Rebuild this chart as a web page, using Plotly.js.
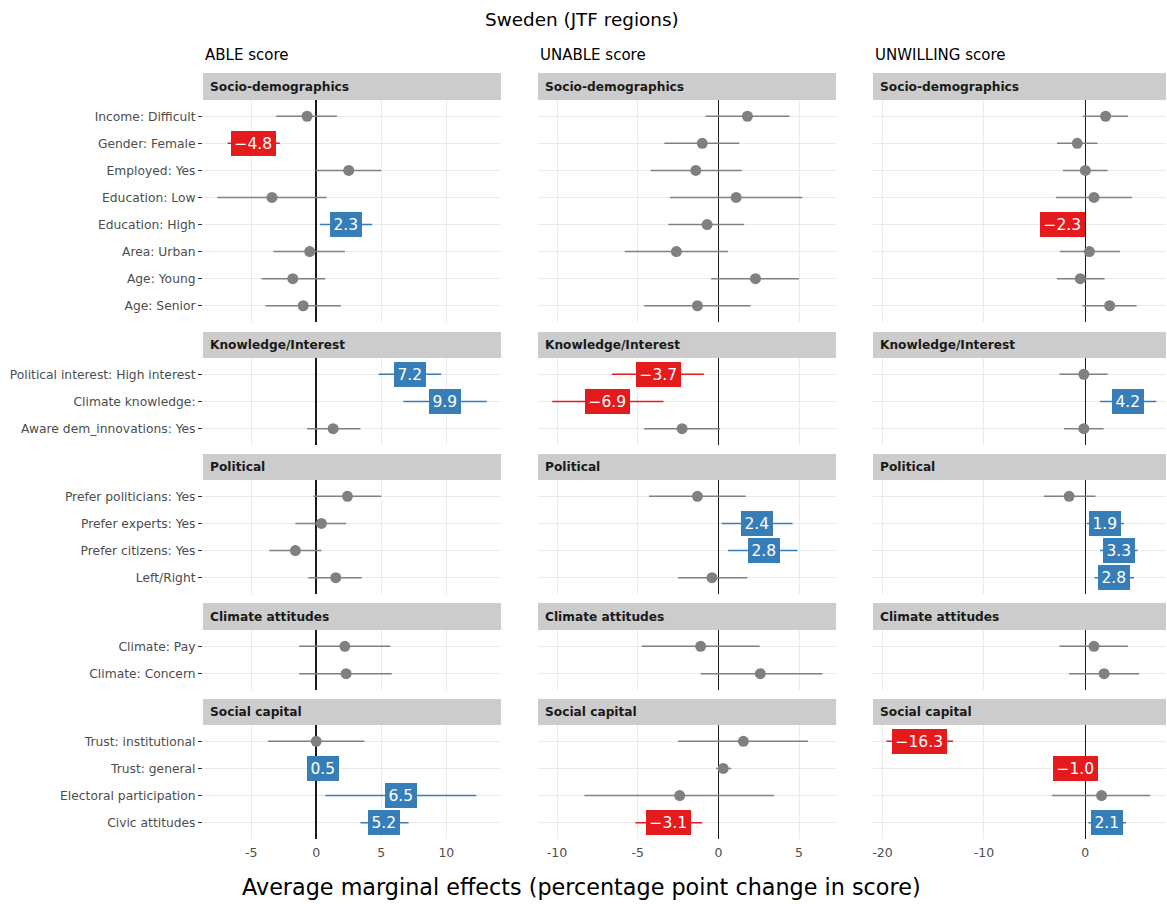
<!DOCTYPE html>
<html><head><meta charset="utf-8">
<script src="https://cdn.plot.ly/plotly-3.0.1.min.js"></script>
<style>body{margin:0;background:#fff}#chart{width:1167px;height:904px}</style>
</head><body><div id="chart"></div>
<script>
// ---- data ----
const categories = [
  "Income: Difficult","Gender: Female","Employed: Yes","Education: Low","Education: High","Area: Urban","Age: Young","Age: Senior",
  "Political interest: High interest","Climate knowledge:","Aware dem_innovations: Yes",
  "Prefer politicians: Yes","Prefer experts: Yes","Prefer citizens: Yes","Left/Right",
  "Climate: Pay","Climate: Concern",
  "Trust: institutional","Trust: general","Electoral participation","Civic attitudes"
];
const groupNames = ["Socio-demographics","Knowledge/Interest","Political","Climate attitudes","Social capital"];
const groupSizes = [8,3,4,2,4];
const scoreTitles = ["ABLE score","UNABLE score","UNWILLING score"];

const ableEst = [-0.7,-4.8,2.5,-3.4,2.3,-0.5,-1.8,-1.0, 7.2,9.9,1.3, 2.4,0.4,-1.6,1.5, 2.2,2.3, 0.0,0.5,6.5,5.2];
const ableLo  = [-3.1,-6.8,-0.05,-7.6,0.3,-3.3,-4.2,-3.9, 4.8,6.7,-0.7, -0.2,-1.6,-3.6,-0.6, -1.3,-1.3, -3.7,0.2,0.7,3.4];
const ableHi  = [1.6,-2.8,5.0,0.8,4.3,2.2,0.7,1.9, 9.6,13.1,3.4, 5.0,2.3,0.4,3.5, 5.7,5.8, 3.7,0.8,12.3,7.1];

const unableEst = [1.8,-1.0,-1.4,1.1,-0.7,-2.6,2.3,-1.3, -3.7,-6.9,-2.25, -1.3,2.4,2.8,-0.4, -1.1,2.6, 1.55,0.3,-2.4,-3.1];
const unableLo  = [-0.8,-3.35,-4.2,-3.0,-3.1,-5.8,-0.45,-4.6, -6.6,-10.3,-4.6, -4.3,0.2,0.6,-2.5, -4.75,-1.1, -2.5,-0.15,-8.3,-5.15];
const unableHi  = [4.4,1.3,1.45,5.2,1.6,0.6,5.0,2.0, -0.9,-3.4,0.1, 1.7,4.6,4.9,1.8, 2.55,6.45, 5.55,0.8,3.45,-1.0];

const unwillingEst = [2.0,-0.8,0.0,0.85,-2.3,0.4,-0.5,2.4, -0.15,4.2,-0.15, -1.6,1.9,3.3,2.8, 0.85,1.85, -16.3,-1.0,1.6,2.1];
const unwillingLo  = [-0.25,-2.8,-2.2,-2.9,-3.0,-2.5,-2.8,-0.3, -2.55,1.45,-2.1, -4.1,0.15,1.45,0.9, -2.55,-1.6, -19.6,-1.4,-3.3,0.3];
const unwillingHi  = [4.2,1.2,2.2,4.6,-1.6,3.4,1.9,5.05, 2.2,7.0,1.8, 1.0,3.8,5.15,4.8, 4.2,5.3, -13.05,-0.6,6.4,4.0];

const xTicks = [[-5,0,5,10],[-10,-5,0,5],[-20,-10,0]];

// ---- layout geometry ----
const W = 1167, H = 904;
const FONT = "DejaVu Sans, Liberation Sans, sans-serif";
const colPx = [[203,501],[538,836],[873,1166]];
const rowPx = [[100,322],[358,445],[480,594],[630,690],[725,839]];
const stripPx = [[73,100],[332,358],[454,480],[603,630],[699,725]];
const xRanges = [[-8.7,14.2],[-11.18,7.29],[-20.93,7.95]];
const RED = "#E41A1C", BLUE = "#377EB8", GREY = "#808080";

const series = [[ableEst,ableLo,ableHi],[unableEst,unableLo,unableHi],[unwillingEst,unwillingLo,unwillingHi]];

const traces = [];
const annotations = [];
const shapes = [];
const layout = {
  width: W, height: H, margin: {l:0,r:0,t:0,b:0},
  paper_bgcolor: "#fff", plot_bgcolor: "#fff", showlegend: false,
  font: {family: FONT, color: "#1a1a1a"}
};

const fmt = v => v.toFixed(1).replace("-", "\u2212");

let start = 0;
for (let r = 0; r < groupSizes.length; r++) {
  const n = groupSizes[r];
  const cats = categories.slice(start, start + n);
  for (let c = 0; c < 3; c++) {
    const k = r * 3 + c + 1;
    const xa = "x" + (k === 1 ? "" : k), ya = "y" + (k === 1 ? "" : k);
    const [est, lo, hi] = series[c];
    const e = est.slice(start, start + n), l = lo.slice(start, start + n), h = hi.slice(start, start + n);
    const ns = {x: [], y: [], p: [], m: []};
    const sig = {pos: {x: [], y: [], p: [], m: []}, neg: {x: [], y: [], p: [], m: []}};
    for (let i = 0; i < n; i++) {
      const isPos = l[i] > 0, isNeg = h[i] < 0;
      const tgt = isPos ? sig.pos : (isNeg ? sig.neg : ns);
      tgt.x.push(e[i]); tgt.y.push(cats[i]); tgt.p.push(h[i] - e[i]); tgt.m.push(e[i] - l[i]);
      if (isPos || isNeg) {
        annotations.push({
          xref: xa, yref: ya, x: e[i], y: cats[i], text: fmt(e[i]), showarrow: false,
          font: {family: FONT, size: 15.5, color: "#fff"},
          bgcolor: isPos ? BLUE : RED, bordercolor: isPos ? BLUE : RED, borderwidth: 1, borderpad: 2.5,
          xanchor: "center", yanchor: "middle"
        });
      }
    }
    traces.push({
      type: "scatter", mode: "markers", x: ns.x, y: ns.y, xaxis: xa, yaxis: ya,
      marker: {size: 11, color: GREY},
      error_x: {type: "data", symmetric: false, array: ns.p, arrayminus: ns.m, width: 0, thickness: 1.5, color: GREY},
      hoverinfo: "x+y", cliponaxis: false
    });
    [["pos", BLUE], ["neg", RED]].forEach(([key, col]) => {
      const s = sig[key];
      if (!s.x.length) return;
      traces.push({
        type: "scatter", mode: "markers", x: s.x, y: s.y, xaxis: xa, yaxis: ya,
        marker: {size: 1, color: col, opacity: 0},
        error_x: {type: "data", symmetric: false, array: s.p, arrayminus: s.m, width: 0, thickness: 1.5, color: col},
        hoverinfo: "x+y"
      });
    });

    layout["xaxis" + (k === 1 ? "" : k)] = {
      domain: [colPx[c][0] / W, colPx[c][1] / W], anchor: ya,
      range: xRanges[c], tickvals: xTicks[c], ticktext: xTicks[c].map(String),
      showticklabels: r === groupSizes.length - 1, ticks: "", ticklabelstandoff: 4,
      tickfont: {family: FONT, size: 12.5, color: "#4d4d4d"},
      showgrid: true, gridcolor: "#EBEBEB", gridwidth: 1,
      zeroline: true, zerolinecolor: "#1a1a1a", zerolinewidth: 1.5,
      showline: false, fixedrange: true
    };
    layout["yaxis" + (k === 1 ? "" : k)] = {
      domain: [1 - rowPx[r][1] / H, 1 - rowPx[r][0] / H], anchor: xa,
      type: "category", categoryorder: "array", categoryarray: cats,
      range: [n - 0.4, -0.6],
      showticklabels: c === 0, ticks: c === 0 ? "outside" : "", ticklen: 4, tickcolor: "#333", tickwidth: 1,
      tickfont: {family: FONT, size: 12.3, color: "#4d4d4d"},
      showgrid: true, gridcolor: "#EBEBEB", gridwidth: 1,
      zeroline: false, showline: false, fixedrange: true
    };

    shapes.push({
      type: "rect", xref: "paper", yref: "paper",
      x0: colPx[c][0] / W, x1: colPx[c][1] / W,
      y0: 1 - stripPx[r][1] / H, y1: 1 - stripPx[r][0] / H,
      fillcolor: "#CCCCCC", line: {width: 0}, layer: "below"
    });
    annotations.push({
      xref: "paper", yref: "paper", x: (colPx[c][0] + 5) / W, y: 1 - (stripPx[r][0] + stripPx[r][1]) / 2 / H,
      xanchor: "left", yanchor: "middle", showarrow: false,
      text: "<b>" + groupNames[r] + "</b>", font: {family: FONT, size: 12.2, color: "#1a1a1a"}
    });
  }
  start += n;
}

for (let c = 0; c < 3; c++) {
  annotations.push({
    xref: "paper", yref: "paper", x: (colPx[c][0]) / W, y: 1 - 55 / H,
    xanchor: "left", yanchor: "middle", showarrow: false,
    text: scoreTitles[c], font: {family: FONT, size: 15, color: "#000"}
  });
}
annotations.push({
  xref: "paper", yref: "paper", x: 582 / W, y: 1 - 19 / H, xanchor: "center", yanchor: "middle",
  showarrow: false, text: "Sweden (JTF regions)", font: {family: FONT, size: 18.4, color: "#000"}
});
annotations.push({
  xref: "paper", yref: "paper", x: 581 / W, y: 1 - 887 / H, xanchor: "center", yanchor: "middle",
  showarrow: false, text: "Average marginal effects (percentage point change in score)",
  font: {family: FONT, size: 22.3, color: "#000"}
});

layout.annotations = annotations;
layout.shapes = shapes;

Plotly.newPlot("chart", traces, layout, {displayModeBar: false, staticPlot: true});
</script>
</body></html>
